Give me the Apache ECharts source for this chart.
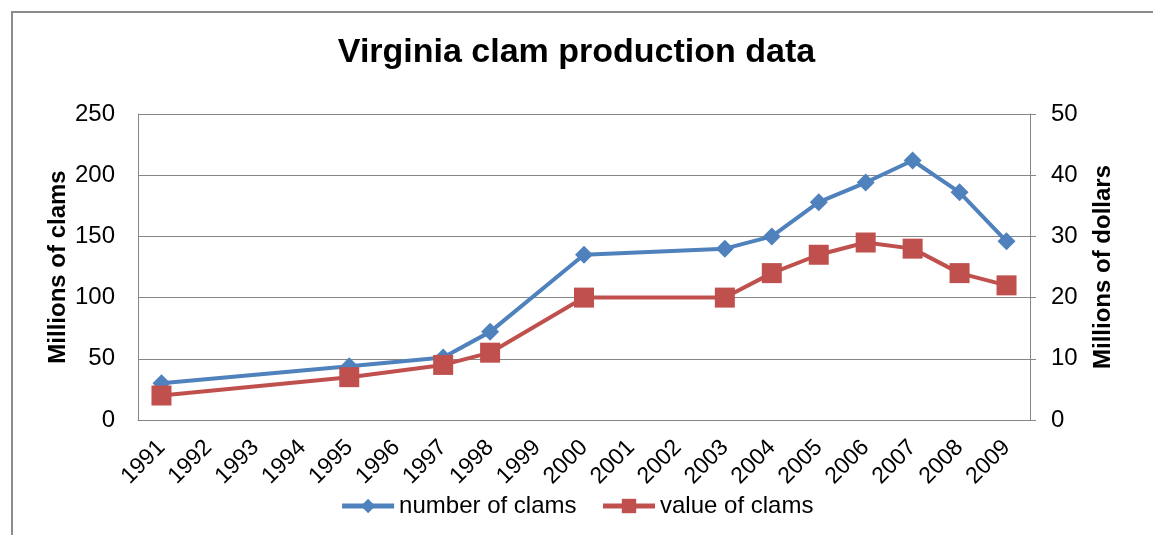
<!DOCTYPE html>
<html>
<head>
<meta charset="utf-8">
<script src="https://cdn.jsdelivr.net/npm/echarts@6/dist/echarts.min.js"></script>
<style>
html,body{margin:0;padding:0;background:#fff}
#main{width:1153px;height:535px}
</style>
</head>
<body>
<div id="main"></div>
<script>
var years = ['1991','1992','1993','1994','1995','1996','1997','1998','1999','2000',
             '2001','2002','2003','2004','2005','2006','2007','2008','2009'];
var clamCount = [30, null, null, null, 44, null, 51, 72, null, 135,
                 null, null, 140, 150, 178, 194, 212, 186, 146];
var clamValue = [4, null, null, null, 7, null, 9, 11, null, 20,
                 null, null, 20, 24, 27, 29, 28, 24, 22];
var leftTicks = [0, 250, 50];
var rightTicks = [0, 50, 10];

var myChart = echarts.init(document.getElementById('main'));
var font = 'Liberation Sans, Arial, sans-serif';

option = {
    animation: false,
    graphic: [{
        type: 'rect',
        shape: {x: 12, y: 12, width: 1200, height: 600},
        style: {fill: 'none', stroke: '#8c8c8c', lineWidth: 2}
    }],
    title: {
        text: 'Virginia clam production data',
        left: 'center',
        top: 31,
        textStyle: {fontFamily: font, fontSize: 34, fontWeight: 'bold', color: '#000'}
    },
    legend: {
        bottom: 12,
        left: 'center',
        itemWidth: 52,
        itemHeight: 18,
        itemGap: 24,
        lineStyle: {width: 5},
        textStyle: {fontFamily: font, fontSize: 24, color: '#000'},
        data: ['number of clams', 'value of clams']
    },
    grid: {left: 138, right: 123, top: 114, bottom: 115},
    xAxis: {
        type: 'category',
        data: years,
        boundaryGap: true,
        axisLine: {lineStyle: {color: '#868686', width: 1}},
        axisTick: {show: false},
        axisLabel: {
            rotate: 45,
            interval: 0,
            fontFamily: font,
            fontSize: 23,
            color: '#000',
            margin: 24
        }
    },
    yAxis: [{
        type: 'value',
        min: leftTicks[0],
        max: leftTicks[1],
        interval: leftTicks[2],
        name: 'Millions of clams',
        nameLocation: 'middle',
        nameGap: 68,
        nameMoveOverlap: false,
        nameRotate: 90,
        nameTextStyle: {fontFamily: font, fontSize: 24, fontWeight: 'bold', color: '#000'},
        axisLine: {show: true, lineStyle: {color: '#868686'}},
        axisTick: {show: false},
        axisLabel: {fontFamily: font, fontSize: 24, color: '#000', margin: 23},
        splitLine: {lineStyle: {color: '#868686', width: 1}}
    }, {
        type: 'value',
        min: rightTicks[0],
        max: rightTicks[1],
        interval: rightTicks[2],
        name: 'Millions of dollars',
        nameLocation: 'middle',
        nameGap: 61,
        nameMoveOverlap: false,
        nameRotate: 90,
        nameTextStyle: {fontFamily: font, fontSize: 24, fontWeight: 'bold', color: '#000'},
        axisLine: {show: true, lineStyle: {color: '#868686'}},
        axisTick: {show: true, length: 6, inside: false, lineStyle: {color: '#868686'}},
        axisLabel: {fontFamily: font, fontSize: 24, color: '#000', margin: 21},
        splitLine: {show: false}
    }],
    series: [{
        name: 'number of clams',
        type: 'line',
        yAxisIndex: 0,
        data: clamCount,
        connectNulls: true,
        symbol: 'diamond',
        symbolSize: 18,
        color: '#4F81BD',
        lineStyle: {width: 4, color: '#4F81BD'},
        itemStyle: {color: '#4F81BD'}
    }, {
        name: 'value of clams',
        type: 'line',
        yAxisIndex: 1,
        data: clamValue,
        connectNulls: true,
        symbol: 'rect',
        symbolSize: 20,
        color: '#C0504D',
        lineStyle: {width: 4, color: '#C0504D'},
        itemStyle: {color: '#C0504D'}
    }]
};

myChart.setOption(option);
window.addEventListener("resize", function () {
    myChart.resize();
});
</script>
</body>
</html>
